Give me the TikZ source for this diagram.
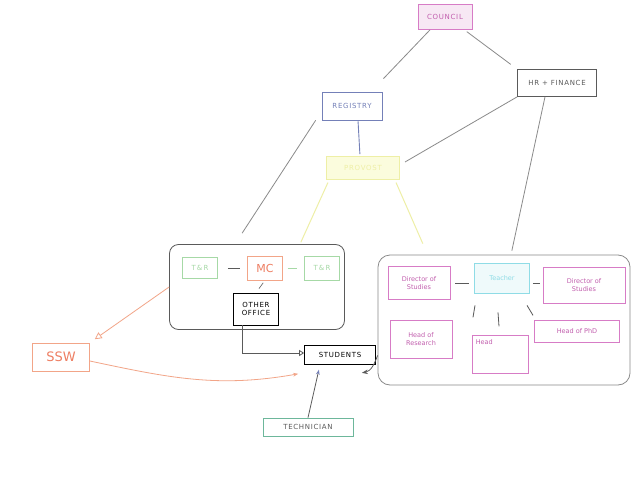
\documentclass[tikz,border=0pt]{standalone}
\usepackage{fontspec}
\setsansfont{DejaVu Sans}
\newfontfamily\capsfont[LetterSpace=10]{DejaVu Sans}
\usetikzlibrary{arrows.meta,calc}
\definecolor{cPink}{HTML}{D77CC6}
\definecolor{cPinkT}{HTML}{C25FAE}
\definecolor{cPinkF}{HTML}{F7E8F4}
\definecolor{cGrey}{HTML}{8A8A8A}
\definecolor{cDark}{HTML}{5A5A5A}
\definecolor{cBlue}{HTML}{7480B8}
\definecolor{cYel}{HTML}{EEEFA6}
\definecolor{cYelF}{HTML}{FBFCDD}
\definecolor{cGreen}{HTML}{A6D9A6}
\definecolor{cOrange}{HTML}{F2A588}
\definecolor{cOrangeT}{HTML}{EE7E62}
\definecolor{cCyan}{HTML}{8FDCE6}
\definecolor{cCyanF}{HTML}{EFFAFB}
\definecolor{cTeal}{HTML}{6DB79B}
\begin{document}
\begin{tikzpicture}[x=1pt,y=-1pt,
  every node/.style={font=\sffamily\fontsize{6.5}{8}\selectfont, inner sep=1pt, align=center},
  caps/.style={font=\capsfont\fontsize{7}{8.5}\selectfont},
  box/.style={draw, line width=0.7pt, rectangle},
  grp/.style={draw=cDark, line width=0.8pt, rounded corners=9pt},
  link/.style={draw=cGrey, line width=0.8pt},
  pinkbox/.style={box, draw=cPink, text=cPinkT},
  greenbox/.style={box, draw=cGreen, text=cGreen, caps},
]
\useasboundingbox[fill=white] (0,0) rectangle (636,476);

% top level
\node[box, caps, draw=cPink, fill=cPinkF, text=cPinkT, minimum width=54pt, minimum height=25pt] (council) at (445,17) {COUNCIL};
\node[box, caps, draw=cDark, text=cDark, minimum width=79pt, minimum height=27pt] (hr) at (557,83) {HR + FINANCE};
\node[box, caps, draw=cBlue, text=cBlue, minimum width=60pt, minimum height=28pt] (registry) at (352,106) {REGISTRY};
\node[box, caps, draw=cYel, fill=cYelF, text=cYel, minimum width=73pt, minimum height=23pt] (provost) at (363,168) {PROVOST};

% groups
\node[grp, minimum width=175pt, minimum height=85pt] (leftgrp) at (257,287) {};
\node[grp, draw=cGrey, minimum width=252pt, minimum height=130pt, rounded corners=12pt] (rightgrp) at (504,320) {};

% left group content
\node[greenbox, minimum width=35pt, minimum height=21pt] (tr1) at (200,268) {T\,\&\,R};
\node[box, draw=cOrange, text=cOrangeT, minimum width=35pt, minimum height=24pt, font=\sffamily\fontsize{11}{12}\selectfont] (mc) at (265,268) {MC};
\node[greenbox, minimum width=35pt, minimum height=24pt] (tr2) at (322,268) {T\,\&\,R};
\node[box, caps, draw=black, text=black, minimum width=45pt, minimum height=32pt] (other) at (256,309) {OTHER\\OFFICE};

% right group content
\node[pinkbox, minimum width=62pt, minimum height=33pt] (dir1) at (419,283) {Director of\\Studies};
\node[box, draw=cCyan, fill=cCyanF, text=cCyan, minimum width=55pt, minimum height=30pt] (teacher) at (502,278) {Teacher};
\node[pinkbox, minimum width=82pt, minimum height=36pt] (dir2) at (584,285) {Director of\\Studies};
\node[pinkbox, minimum width=62pt, minimum height=38pt] (hor) at (421,339) {Head of\\Research};
\node[pinkbox, minimum width=56pt, minimum height=38pt] (head) at (500,354) {};
\node[text=cPinkT, anchor=north west] (headlbl) at ([shift={(3,4)}]head.north west) {Head};
\node[pinkbox, minimum width=85pt, minimum height=22pt] (phd) at (577,331) {Head of PhD};

% lower nodes
\node[box, draw=cOrange, text=cOrangeT, minimum width=57pt, minimum height=28pt, font=\sffamily\fontsize{13}{14}\selectfont] (ssw) at (61,357) {SSW};
\node[box, caps, draw=black, text=black, minimum width=71pt, minimum height=19pt] (students) at (340,355) {STUDENTS};
\node[box, caps, draw=cTeal, text=cDark, minimum width=90pt, minimum height=18pt] (tech) at (308,427) {TECHNICIAN};

% top connectors
\draw[link, shorten >=18pt] ([xshift=-15pt]council.south) -- ([xshift=19pt]registry.north);
\draw[link, shorten <=3pt, shorten >=8pt] ([xshift=-8pt]council.south east) -- (hr.north west);
\draw[draw=cBlue, line width=0.9pt, shorten <=1pt, shorten >=2pt] ([xshift=6pt]registry.south) -- ([xshift=-3pt]provost.north);
\draw[link, shorten >=6pt] (hr.south west) -- ([yshift=3pt]provost.east);
\draw[link, shorten >=13pt] ([xshift=-6pt]registry.south west) -- ([xshift=-22pt]leftgrp.north);
\draw[link, shorten >=4pt] ([xshift=-12pt]hr.south) -- ([xshift=7pt]rightgrp.north);
\draw[draw=cYel, line width=1pt, shorten <=3pt, shorten >=2pt] ([xshift=3pt]provost.south west) -- ([xshift=43pt]leftgrp.north);
\draw[draw=cYel, line width=1pt, shorten <=3pt, shorten >=12pt] ([xshift=-5pt]provost.south east) -- ([xshift=50pt]rightgrp.north west);

% left group links
\draw[link, draw=cDark, shorten <=10pt, shorten >=7pt] (tr1) -- (mc);
\draw[link, draw=cGreen, shorten <=5pt, shorten >=7pt] (mc) -- (tr2);
\draw[link, draw=cDark, line width=0.6pt, shorten <=3pt, shorten >=5pt] (mc.south) -- (other.north);

% right group links
\draw[link, draw=cDark, shorten <=5pt, shorten >=5pt] (dir1.east) -- ([shift={(0,5)}]teacher.west);
\draw[link, draw=cDark, shorten <=3pt, shorten >=3pt] ([shift={(0,5)}]teacher.east) -- ([shift={(0,-2)}]dir2.west);
\draw[link, draw=cDark] ([shift={(-27,12)}]teacher.south) -- ++(-2,12);
\draw[link, draw=cDark] ([shift={(-4,19)}]teacher.south) -- ++(1,14);
\draw[link, draw=cDark] ([shift={(25,12)}]teacher.south) -- ++(6,10);

% lower connectors
\draw[draw=cOrange, line width=0.8pt, shorten >=6pt, -{Triangle[open, length=7pt, width=7pt]}] (leftgrp.west) -- (ssw.north east);
\draw[draw=cOrange, line width=0.8pt, -{Stealth[length=5pt]}] ([shift={(0,4)}]ssw.east) to[out=-12, in=190] ([shift={(-6,9)}]students.south west);
\draw[draw=cDark, line width=0.8pt, -{Triangle[open, length=5pt, width=6pt]}] ([xshift=-14pt]other.south) |- ([shift={(0,-2)}]students.west);
\draw[draw=cDark, line width=0.8pt, -{Stealth[length=6pt]}] ([shift={(0,-30)}]rightgrp.south west) to[out=-110, in=10] ([shift={(-14,8)}]students.south east);
\draw[draw=cDark, line width=0.8pt, shorten >=5pt, -{Stealth[length=5pt, color=cBlue]}] (tech.north) -- ([xshift=-20pt]students.south);
\end{tikzpicture}
\end{document}
